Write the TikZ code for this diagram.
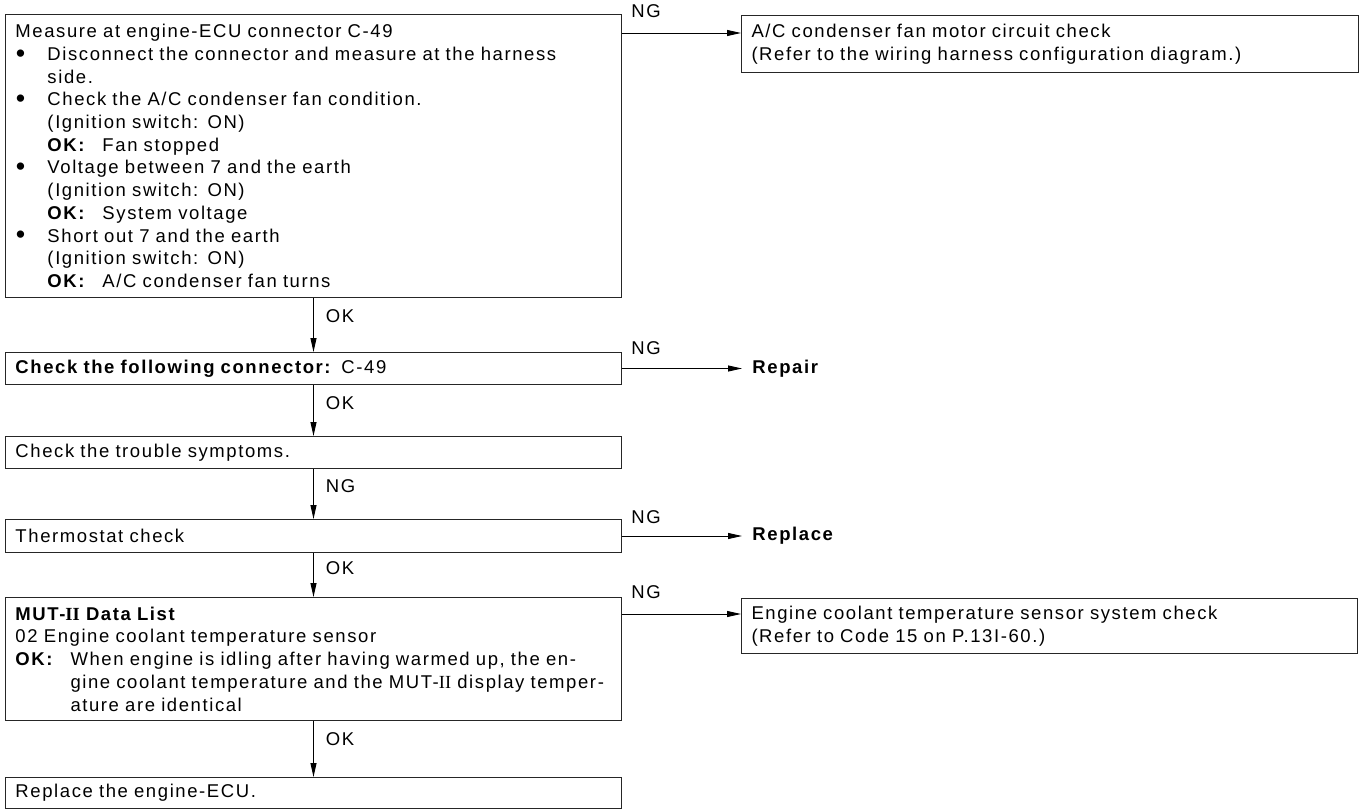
\documentclass[tikz,border=0pt]{standalone}
\usepackage{fontspec}
\setmainfont{Liberation Sans}[LetterSpace=8.6]
\newfontfamily\romii{Liberation Serif}
\usetikzlibrary{arrows.meta,positioning}
\newcommand{\bul}{\makebox[32pt][l]{\hspace{0.5pt}\raisebox{-1.8pt}{\scalebox{1.45}{\textbullet}}}}
\newcommand{\indt}{\hspace*{32pt}}
\newcommand{\okk}{\makebox[55pt][l]{\textbf{OK:}}}
\newcommand{\hng}{\hspace*{55pt}}
\newcommand{\II}{{\romii II}}

\begin{document}
\begin{tikzpicture}[x=1pt,y=-1pt,>={Triangle[length=14pt,width=6pt]},line width=0.9pt,font=\fontsize{18.5}{22.7}\selectfont]
\tikzstyle{c}=[draw=black!85,line width=1pt,anchor=north west,minimum width=616pt,text width=596pt,inner xsep=10pt,inner ysep=0pt,align=left]
\tikzstyle{lbl}=[anchor=base west,inner sep=0pt]
\tikzstyle{res}=[anchor=west,inner xsep=10pt,font=\fontsize{18.5}{22.7}\selectfont\bfseries]
\useasboundingbox (0,0) rectangle (1360,810);
% left column
\node[c,minimum height=283pt] (m1) at (5,14) {Measure at engine-ECU connector C-49\\
\mbox{\bul Disconnect the connector and measure at the harness}\\
\indt side.\\
\bul Check the A/C condenser fan condition.\\
\indt (Ignition switch: ON)\\
\indt\okk Fan stopped\\
\bul Voltage between 7 and the earth\\
\indt (Ignition switch: ON)\\
\indt\okk System voltage\\
\bul Short out 7 and the earth\\
\indt (Ignition switch: ON)\\
\indt\okk A/C condenser fan turns};
\node[c,minimum height=32pt] (b2) at (5,352) {\textbf{Check the following connector:} C-49};
\node[c,minimum height=32pt] (b3) at (5,436) {Check the trouble symptoms.};
\node[c,minimum height=33pt] (b4) at (5,519) {Thermostat check};
\node[c,minimum height=123pt] (b5) at (5,597) {\textbf{MUT-\II\ Data List}\\
02 Engine coolant temperature sensor\\
\mbox{\okk When engine is idling after having warmed up, the en-}\\
\mbox{\hng gine coolant temperature and the MUT-\II\ display temper-}\\
\hng ature are identical};
\node[c,minimum height=31pt] (b6) at (5,777) {Replace the engine-ECU.};
% right column
\node[c,minimum width=617pt,text width=597pt,minimum height=57pt] (ac) at (741,15) {A/C condenser fan motor circuit check\\
\mbox{(Refer to the wiring harness configuration diagram.)}};
\node[res] (rp) at ([xshift=120pt]b2.east) {Repair};
\node[res] (rl) at ([xshift=120pt]b4.east) {Replace};
\node[c,minimum height=55pt] (ect) at (741,598) {Engine coolant temperature sensor system check\\
(Refer to Code 15 on P.13I-60.)};
% OK / NG down the middle
\draw[->] (m1.south) -- (b2.north) node[lbl,at start,xshift=12pt,yshift=-25pt] (k1) {OK};
\draw[->] (b2.south) -- (b3.north) node[lbl,at start,xshift=12pt,yshift=-24pt] (k2) {OK};
\draw[->] (b3.south) -- (b4.north) node[lbl,at start,xshift=12pt,yshift=-23pt] (k3) {NG};
\draw[->] (b4.south) -- (b5.north) node[lbl,at start,xshift=12pt,yshift=-21pt] (k4) {OK};
\draw[->] (b5.south) -- (b6.north) node[lbl,at start,xshift=12pt,yshift=-24pt] (k5) {OK};
% NG to the right
\coordinate (g1) at ([yshift=-19pt]m1.north east);
\coordinate (g5) at ([yshift=-17pt]b5.north east);
\draw[->] (g1) -- (g1 -| ac.west);
\draw[->] (b2.east) -- (rp.west);
\draw[->] (b4.east) -- (rl.west);
\draw[->] (g5) -- (g5 -| ect.west);
\node[lbl] (n1) at ([xshift=9pt,yshift=-4pt]m1.north east) {NG};
\node[lbl] (n2) at ([xshift=9pt,yshift=-2pt]b2.north east) {NG};
\node[lbl] (n4) at ([xshift=9pt,yshift=-4pt]b4.north east) {NG};
\node[lbl] (n5) at ([xshift=9pt,yshift=-1pt]b5.north east) {NG};
\end{tikzpicture}
\end{document}
